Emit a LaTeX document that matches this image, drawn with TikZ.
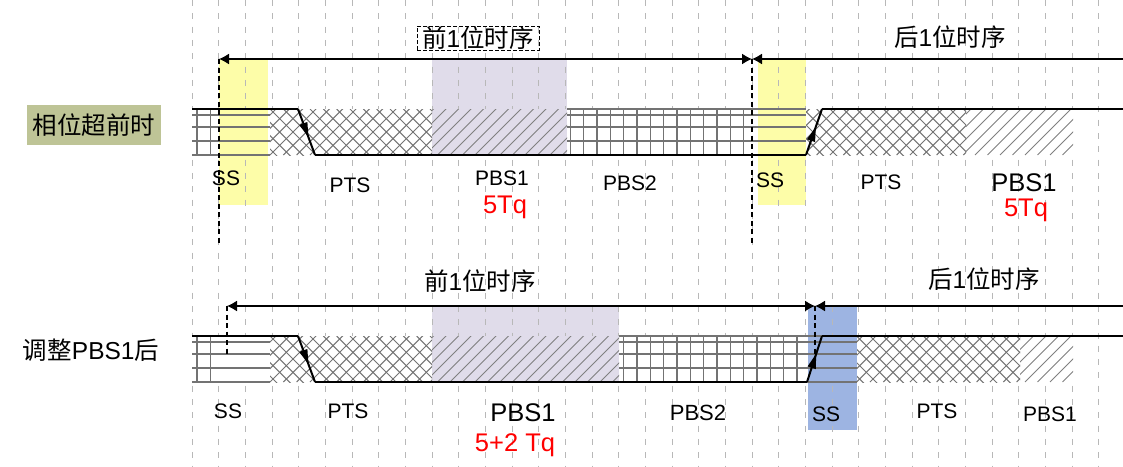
\documentclass[tikz,border=0pt]{standalone}
\usepackage{fontspec}
\setmainfont{Liberation Sans}
\newfontfamily\cjk{Noto Sans CJK SC}
\usetikzlibrary{arrows.meta, decorations.markings}

\definecolor{ssyellow}{RGB}{253,253,168}
\definecolor{pbsviolet}{RGB}{224,220,234}
\definecolor{ssblue}{RGB}{157,180,226}
\definecolor{tagolive}{RGB}{190,196,150}

\tikzset{
  gridline/.style={
    draw=black!28, line width=1pt, dash pattern=on 6pt off 7.3pt,
  },
  marker/.style={
    draw=black, line width=1.6pt, dash pattern=on 5pt off 3.5pt,
  },
  timing/.style={
    draw=black, line width=1.4pt, >={Latex[length=10pt, width=11pt]},
  },
  signal/.style={
    draw=black, line width=2pt,
  },
  slope/.style={
    signal, postaction={decorate},
    decoration={markings, mark=at position 0.62 with
      {\arrow{Triangle[length=15pt, width=8pt]}}},
  },
  patline/.style={draw=black!55, line width=1.1pt},
  crossline/.style={draw=black!55, line width=1pt},
  hatchline/.style={draw=black!50, line width=0.9pt},
  seg/.style={font=\fontsize{21}{21}\selectfont, inner sep=0pt},
  segbig/.style={font=\fontsize{25.5}{26}\selectfont, inner sep=0pt},
  tq/.style={segbig, text=red},
  period/.style={font=\fontsize{24.5}{25}\selectfont, inner sep=0pt},
  rowtag/.style={font=\fontsize{24.5}{25}\selectfont, inner sep=0pt},
}

% fills of one bit band: x from, x to, top, bottom
\newcommand{\gridfill}[4]{%
  \begin{scope}
    \clip (#1,#3) rectangle (#2,#4);
    \foreach \i in {0,...,60}
      \draw[patline] ({197+13.333*\i},#3) -- ++(0,46);
  \end{scope}}
\newcommand{\hlines}[3]{%
  \foreach \dy in {0,6,18,32,46}
    \draw[patline] (#1,{#3+\dy}) -- (#2,{#3+\dy});}
\newcommand{\crossfill}[4]{%
  \begin{scope}
    \clip (#1,#3) rectangle (#2,#4);
    \foreach \i in {0,...,80}
      \draw[crossline] ({150+13.333*\i},#4) -- ++(60,-60)
                       ({150+13.333*\i},#3) -- ++(60,60);
  \end{scope}}
\newcommand{\slashfill}[4]{%
  \begin{scope}
    \clip (#1,#3) rectangle (#2,#4);
    \foreach \i in {0,...,90}
      \draw[hatchline] ({150+12.5*\i},#4) -- ++(60,-60);
  \end{scope}}

\begin{document}
\begin{tikzpicture}[x=1pt, y=-1pt]
  \useasboundingbox (0,0) rectangle (1123,466);

  % Highlighted segments
  \fill[ssyellow] (219,59) rectangle (268,205);
  \fill[ssyellow] (758,59) rectangle (806,205);
  \fill[pbsviolet] (432,59) rectangle (567,155);
  \fill[pbsviolet] (432,306) rectangle (619,382);
  \fill[ssblue] (808,306) rectangle (857,430);

  % Time quanta
  \foreach \k in {0,...,34}
    \draw[gridline] ({192+26.667*\k},0) -- ({192+26.667*\k},466);

  % Bands hide the quanta lines
  \fill[white] (192,109) rectangle (1073,155);
  \fill[ssyellow] (219,109) rectangle (268,155);
  \fill[pbsviolet] (432,109) rectangle (567,155);
  \fill[ssyellow] (758,109) rectangle (806,155);
  \fill[white] (192,336) rectangle (1073,382);
  \fill[pbsviolet] (432,336) rectangle (619,382);
  \fill[ssblue] (808,336) rectangle (857,382);

  % Bit before phase error
  \gridfill{192}{219}{109}{155}
  \hlines{192}{270}{109}
  \crossfill{270}{432}{109}{155}
  \slashfill{432}{567}{109}{155}
  \gridfill{567}{752}{109}{155}
  \hlines{567}{806}{109}
  \crossfill{806}{966}{109}{155}
  \slashfill{966}{1073}{109}{155}

  \draw[signal] (192,109) -- (298,109);
  \draw[slope] (298,109) -- (315,155);
  \draw[signal] (315,155) -- (806,155);
  \draw[slope] (806,155) -- (822,109);
  \draw[signal] (822,109) -- (1123,109);

  % Bit after resync
  \gridfill{192}{219}{336}{382}
  \hlines{192}{270}{336}
  \crossfill{270}{432}{336}{382}
  \slashfill{432}{619}{336}{382}
  \gridfill{619}{807}{336}{382}
  \hlines{619}{857}{336}
  \crossfill{857}{1020}{336}{382}
  \slashfill{1020}{1073}{336}{382}

  \draw[signal] (192,336) -- (298,336);
  \draw[slope] (298,336) -- (315,382);
  \draw[signal] (315,382) -- (807,382);
  \draw[slope] (807,382) -- (822,336);
  \draw[signal] (822,336) -- (1123,336);

  % Bit timing spans
  \coordinate (pre1) at (219,59);
  \coordinate (mid1) at (752,59);
  \coordinate (end1) at (1123,59);
  \coordinate (pre1 low) at (219,245);
  \coordinate (mid1 low) at (752,245);
  \coordinate (pre2) at (227,306);
  \coordinate (mid2) at (815,306);
  \coordinate (end2) at (1123,306);
  \coordinate (pre2 low) at (227,355);
  \coordinate (mid2 low) at (815,357);

  \draw[marker] (pre1) -- (pre1 low);
  \draw[marker] (mid1) -- (mid1 low);
  \draw[marker] (pre2) -- (pre2 low);
  \draw[marker] (mid2) -- (mid2 low);

  \draw[timing, <->] (pre1) -- (mid1);
  \draw[timing, <-] (mid1) -- (end1);
  \draw[timing, <->] (pre2) -- (mid2);
  \draw[timing, <-] (mid2) -- (end2);

  \node[period, draw, line width=1pt, dash pattern=on 4pt off 2pt,
        minimum width=122pt, minimum height=24pt] (span1a) at (478,38)
    {{\cjk 前}1{\cjk 位时序}};
  \node[period] (span1b) at (950,37) {{\cjk 后}1{\cjk 位时序}};
  \node[period] (span2a) at (480,281) {{\cjk 前}1{\cjk 位时序}};
  \node[period] (span2b) at (984,279) {{\cjk 后}1{\cjk 位时序}};

  % Row tags
  \node[rowtag, fill=tagolive, minimum width=134pt, minimum height=40pt]
    (tag1) at (94,125) {\cjk 相位超前时};
  \node[rowtag] (tag2) at (91,350) {{\cjk 调整}PBS1{\cjk 后}};

  % Segment names
  \node[seg] (ss1a) at (226,178) {SS};
  \node[seg] (pts1a) at (350,185) {PTS};
  \node[seg] (pbs1a) at (502,178) {PBS1};
  \node[tq] (tq1a) at (505,207) {5Tq};
  \node[seg] (pbs2a) at (630,183) {PBS2};
  \node[seg] (ss1b) at (770,180) {SS};
  \node[seg] (pts1b) at (881,182) {PTS};
  \node[segbig] (pbs1b) at (1024,183) {PBS1};
  \node[tq] (tq1b) at (1026,210) {5Tq};

  \node[seg] (ss2a) at (228,411) {SS};
  \node[seg] (pts2a) at (348,411) {PTS};
  \node[segbig] (pbs1c) at (523,413) {PBS1};
  \node[tq] (tq2a) at (515,445) {5+2 Tq};
  \node[seg, font=\fontsize{22}{22}\selectfont] (pbs2b) at (698,413) {PBS2};
  \node[seg] (ss2b) at (826,414) {SS};
  \node[seg] (pts2b) at (937,411) {PTS};
  \node[seg] (pbs1d) at (1050,414) {PBS1};

\end{tikzpicture}
\end{document}
